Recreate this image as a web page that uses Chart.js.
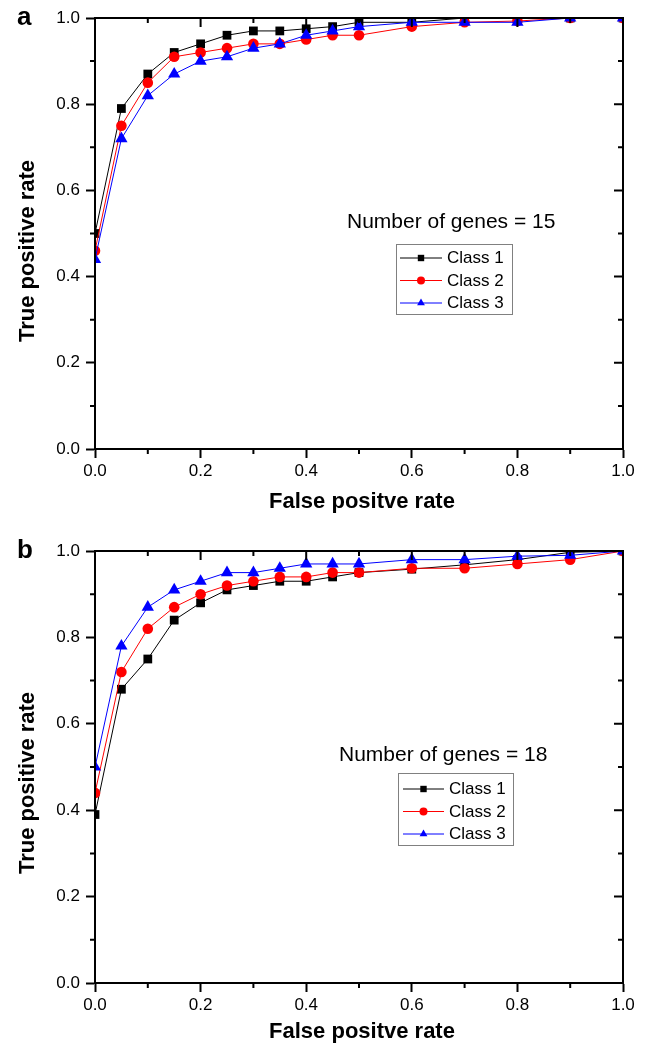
<!DOCTYPE html>
<html><head><meta charset="utf-8">
<script src="https://cdn.jsdelivr.net/npm/chart.js@4.4.1/dist/chart.umd.min.js"></script>
<style>
html,body{margin:0;padding:0;background:#fff;width:646px;height:1043px;overflow:hidden}
canvas{position:absolute;left:0}
</style></head><body>
<canvas id="ca" width="646" height="534" style="top:0;width:646px;height:534px"></canvas>
<canvas id="cb" width="646" height="509" style="top:534px;width:646px;height:509px"></canvas>
<script>
// ---- data ----
const fpr = [0, 0.05, 0.1, 0.15, 0.2, 0.25, 0.3, 0.35, 0.4, 0.45, 0.5, 0.6, 0.7, 0.8, 0.9, 1.0];
const seriesNames = ['Class 1', 'Class 2', 'Class 3'];
// panel a (Number of genes = 15)
const tprA_class1 = [0.50, 0.79, 0.87, 0.92, 0.94, 0.96, 0.97, 0.97, 0.975, 0.98, 0.99, 0.99, 1.0, 1.0, 1.0, 1.0];
const tprA_class2 = [0.46, 0.75, 0.85, 0.91, 0.92, 0.93, 0.94, 0.94, 0.95, 0.96, 0.96, 0.98, 0.99, 0.993, 1.0, 1.0];
const tprA_class3 = [0.44, 0.72, 0.82, 0.87, 0.90, 0.91, 0.93, 0.94, 0.96, 0.97, 0.98, 0.99, 0.99, 0.99, 1.0, 1.0];
// panel b (Number of genes = 18)
const tprB_class1 = [0.39, 0.68, 0.75, 0.84, 0.88, 0.91, 0.92, 0.93, 0.93, 0.94, 0.95, 0.958, 0.968, 0.98, 0.997, 1.0];
const tprB_class2 = [0.44, 0.72, 0.82, 0.87, 0.90, 0.92, 0.93, 0.94, 0.94, 0.95, 0.95, 0.96, 0.96, 0.97, 0.98, 1.0];
const tprB_class3 = [0.50, 0.78, 0.87, 0.91, 0.93, 0.95, 0.95, 0.96, 0.97, 0.97, 0.97, 0.98, 0.98, 0.988, 0.99, 1.0];
const axisTicks = [0.0, 0.2, 0.4, 0.6, 0.8, 1.0];
const xTitle = 'False positve rate';
const yTitle = 'True positive rate';

const FONT = '"Liberation Sans", Arial, Helvetica, sans-serif';
const colors = ['#000000', '#ff0000', '#0000ff'];
const shapes = ['rect', 'circle', 'triangle'];
const radii = [6.2, 5.3, 7.1];

function drawMarker(ctx, shape, x, y, s, color) {
  ctx.fillStyle = color;
  ctx.beginPath();
  if (shape === 'rect') {
    ctx.rect(x - s, y - s, 2 * s, 2 * s);
  } else if (shape === 'circle') {
    ctx.arc(x, y, s, 0, Math.PI * 2);
  } else {
    ctx.moveTo(x, y - s);
    ctx.lineTo(x + s * 0.866, y + s * 0.5);
    ctx.lineTo(x - s * 0.866, y + s * 0.5);
    ctx.closePath();
  }
  ctx.fill();
}

const framePlugin = {
  id: 'frame',
  afterDatasetsDraw(chart) {
    const {ctx, chartArea: a, scales: {x, y}} = chart;
    ctx.save();
    ctx.strokeStyle = '#000';
    ctx.lineWidth = 2;
    ctx.strokeRect(a.left, a.top, a.right - a.left, a.bottom - a.top);
    ctx.beginPath();
    for (let i = 0; i <= 10; i++) {
      const v = i / 10;
      const major = i % 2 === 0;
      const L = major ? 9 : 5;
      const px = x.getPixelForValue(v);
      const py = y.getPixelForValue(v);
      ctx.moveTo(px, a.top); ctx.lineTo(px, a.top + L);
      ctx.moveTo(a.right, py); ctx.lineTo(a.right - L, py);
      if (!major) {
        ctx.moveTo(px, a.bottom); ctx.lineTo(px, a.bottom + L);
        ctx.moveTo(a.left, py); ctx.lineTo(a.left - L, py);
      }
    }
    ctx.stroke();
    ctx.restore();
  },
  afterDraw(chart, args, o) {
    const ctx = chart.ctx;
    ctx.save();
    ctx.fillStyle = '#000';
    // panel letter
    ctx.font = 'bold 26px ' + FONT;
    ctx.textAlign = 'left'; ctx.textBaseline = 'alphabetic';
    ctx.fillText(o.panel, 17, o.panelY);
    // x title
    ctx.font = 'bold 22px ' + FONT;
    ctx.textAlign = 'center';
    ctx.fillText(xTitle, 362, o.xTitleBase);
    // y title
    ctx.save();
    ctx.translate(34, o.yTitleY);
    ctx.rotate(-Math.PI / 2);
    ctx.fillText(yTitle, 0, 0);
    ctx.restore();
    // annotation
    ctx.font = '21px ' + FONT;
    ctx.textAlign = 'left';
    ctx.fillText(o.note, o.noteX, o.noteBase);
    // legend
    const L = o.legend;
    ctx.strokeStyle = '#808080';
    ctx.lineWidth = 1;
    ctx.strokeRect(L.x0 + 0.5, L.y0 + 0.5, L.x1 - L.x0, L.y1 - L.y0);
    ctx.font = '17px ' + FONT;
    chart.data.datasets.forEach((ds, i) => {
      const cy = L.rows[i];
      ctx.strokeStyle = ds.borderColor;
      ctx.lineWidth = 1;
      ctx.beginPath();
      ctx.moveTo(L.lx0, cy); ctx.lineTo(L.lx1, cy);
      ctx.stroke();
      drawMarker(ctx, shapes[i], (L.lx0 + L.lx1) / 2, cy, [3.2, 4, 4.5][i], ds.borderColor);
      ctx.fillStyle = '#000';
      ctx.textBaseline = 'middle';
      ctx.fillText(ds.label, L.tx, cy + 0.5);
      ctx.textBaseline = 'alphabetic';
    });
    ctx.restore();
  }
};

function makeChart(id, series, opts) {
  const canvas = document.getElementById(id);
  const H = canvas.height;
  const plotTop = opts.plotTop, plotBottom = opts.plotBottom;
  return new Chart(canvas, {
    type: 'scatter',
    data: {
      datasets: series.map((vals, i) => ({
        label: seriesNames[i],
        data: fpr.map((fx, k) => ({x: fx, y: vals[k]})),
        showLine: true,
        borderColor: colors[i],
        backgroundColor: colors[i],
        borderWidth: 1,
        pointStyle: shapes[i],
        pointRadius: radii[i],
        pointHoverRadius: radii[i],
        pointBorderWidth: 0,
        pointBackgroundColor: colors[i],
        order: 3 - i,
        clip: 0,
        tension: 0
      }))
    },
    options: {
      responsive: false,
      animation: false,
      devicePixelRatio: 1,
      events: [],
      layout: {padding: {left: 0, right: 646 - 623, top: plotTop, bottom: 0}},
      plugins: {
        legend: {display: false},
        tooltip: {enabled: false},
        frame: opts.frame
      },
      scales: {
        x: {
          type: 'linear', min: 0, max: 1,
          afterBuildTicks: s => { s.ticks = axisTicks.map(v => ({value: v})); },
          afterFit: s => { s.height = H - plotBottom; },
          ticks: {
            color: '#000', font: {family: FONT, size: 17}, padding: 3,
            maxRotation: 0, autoSkip: false,
            callback: v => Number(v).toFixed(1)
          },
          grid: {display: true, drawOnChartArea: false, drawTicks: true, tickLength: 9, tickWidth: 2, tickColor: '#000'},
          border: {display: true, color: '#000', width: 2}
        },
        y: {
          type: 'linear', min: 0, max: 1,
          afterBuildTicks: s => { s.ticks = axisTicks.map(v => ({value: v})); },
          afterFit: s => { s.width = 95; },
          ticks: {
            color: '#000', font: {family: FONT, size: 17}, padding: 6,
            autoSkip: false,
            callback: v => Number(v).toFixed(1)
          },
          grid: {display: true, drawOnChartArea: false, drawTicks: true, tickLength: 9, tickWidth: 2, tickColor: '#000'},
          border: {display: true, color: '#000', width: 2}
        }
      }
    },
    plugins: [framePlugin]
  });
}

makeChart('ca', [tprA_class1, tprA_class2, tprA_class3], {
  plotTop: 18, plotBottom: 449,
  frame: {
    panel: 'a', panelY: 25, xTitleBase: 508, yTitleY: 251,
    note: 'Number of genes = 15', noteX: 347, noteBase: 228,
    legend: {x0: 396, x1: 512, y0: 244, y1: 314, rows: [258, 280.5, 303], lx0: 400, lx1: 442, tx: 447}
  }
});
makeChart('cb', [tprB_class1, tprB_class2, tprB_class3], {
  plotTop: 17, plotBottom: 449,
  frame: {
    panel: 'b', panelY: 24, xTitleBase: 504, yTitleY: 249,
    note: 'Number of genes = 18', noteX: 339, noteBase: 227,
    legend: {x0: 398, x1: 513, y0: 239, y1: 311, rows: [255, 277.5, 300], lx0: 403, lx1: 444, tx: 449}
  }
});
</script>
</body></html>
